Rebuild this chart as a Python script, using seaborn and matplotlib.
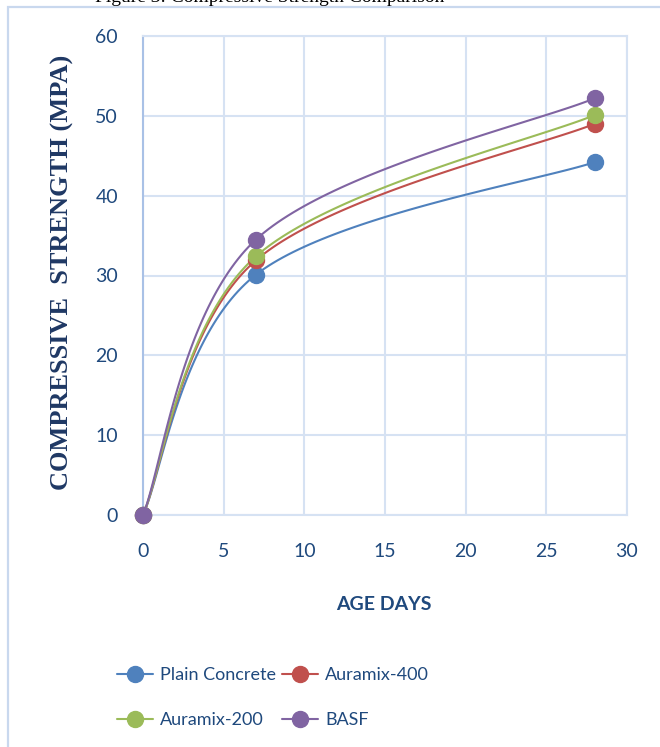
import numpy as np
import pandas as pd
import matplotlib
matplotlib.use("Agg")
import matplotlib.pyplot as plt
from matplotlib.lines import Line2D
from matplotlib.patches import Rectangle
import seaborn as sns

# ---- data ----
age_days = [0, 7, 28]
plain_concrete = [0, 30.1, 44.2]
auramix_400 = [0, 31.9, 49.0]
auramix_200 = [0, 32.4, 50.1]
basf = [0, 34.5, 52.2]
series_names = ["Plain Concrete", "Auramix-400", "Auramix-200", "BASF"]
series_values = [plain_concrete, auramix_400, auramix_200, basf]
colors = ["#4F81BD", "#C0504D", "#9BBB59", "#8064A2"]
x_ticks = [0, 5, 10, 15, 20, 25, 30]
y_ticks = [0, 10, 20, 30, 40, 50, 60]


def smooth_curve(xs, ys, n=60):
    """Excel-like smoothed line: Catmull-Rom Bezier through the points."""
    P = np.column_stack([xs, ys]).astype(float)
    m = len(P)
    out = []
    for i in range(m - 1):
        p_prev = P[i - 1] if i > 0 else P[i]
        p_next2 = P[i + 2] if i + 2 < m else P[i + 1]
        c1 = P[i] + (P[i + 1] - p_prev) / 6.0
        c2 = P[i + 1] - (p_next2 - P[i]) / 6.0
        t = np.linspace(0, 1, n)[:, None]
        seg = ((1 - t) ** 3) * P[i] + 3 * ((1 - t) ** 2) * t * c1 + 3 * (1 - t) * t ** 2 * c2 + t ** 3 * P[i + 1]
        if i > 0:
            seg = seg[1:]
        out.append(seg)
    return np.vstack(out)


rows = []
pts = []
for name, vals in zip(series_names, series_values):
    curve = smooth_curve(age_days, vals)
    for k, (cx, cy) in enumerate(curve):
        rows.append({"series": name, "x": cx, "y": cy, "order": k})
    for ax_, ay_ in zip(age_days, vals):
        pts.append({"series": name, "x": ax_, "y": ay_})
curves = pd.DataFrame(rows)
points = pd.DataFrame(pts)
palette = dict(zip(series_names, colors))

sns.set_theme(style="white")
plt.rcParams["font.family"] = ["Lato", "DejaVu Sans"]

W, H = 660, 747
fig = plt.figure(figsize=(W / 100, H / 100), dpi=100)
ax = fig.add_axes([143 / W, 1 - 515 / H, (627 - 143) / W, (515 - 36) / H])

sns.lineplot(data=curves, x="x", y="y", hue="series", palette=palette,
             estimator=None, sort=False, units="series", linewidth=1.5,
             legend=False, ax=ax, clip_on=False)
for name in series_names:
    sub = points[points.series == name]
    ax.plot(sub.x, sub.y, linestyle="none", marker="o", markersize=11.5,
            markerfacecolor=palette[name], markeredgecolor=palette[name],
            clip_on=False, zorder=5)

ax.set_xlim(0, 30)
ax.set_ylim(0, 60)
ax.set_xticks(x_ticks)
ax.set_yticks(y_ticks)
ax.set_xticklabels([str(v) for v in x_ticks])
ax.set_yticklabels([str(v) for v in y_ticks])
grid_c = "#D6E2F3"
ax.grid(True, color=grid_c, linewidth=1.5)
ax.set_axisbelow(True)
for s in ["top", "right", "bottom"]:
    ax.spines[s].set_color(grid_c)
    ax.spines[s].set_linewidth(1.5)
ax.spines["left"].set_color("#A9C1E6")
ax.spines["left"].set_linewidth(1.5)
tick_c = "#1F497D"
ax.tick_params(axis="both", length=0, labelsize=14, labelcolor=tick_c)
ax.tick_params(axis="y", pad=18)
ax.tick_params(axis="x", pad=20)
ax.set_xlabel("")
ax.set_ylabel("")

fig.text(62 / W, 1 - 272 / H, "COMPRESSIVE  STRENGTH (MPA)", rotation=90,
         ha="center", va="center", fontsize=19, fontweight="bold",
         family=["Liberation Serif"], color="#1F3864")
fig.text(384 / W, 1 - 604 / H, "AGE DAYS", ha="center", va="center",
         fontsize=14, fontweight="bold", color="#1F497D")

# partially cut title at top (as in the reference)
fig.text(270 / W, 1 - 2 / H, "Figure 3: Compressive Strength Comparison",
         ha="center", va="baseline", fontsize=14, family=["Liberation Serif"],
         color="black")

# outer chart border
fig.patches.append(Rectangle((8 / W, -0.05), 1.2, 1 - 7 / H + 0.05,
                             transform=fig.transFigure, fill=False,
                             edgecolor="#C9D8EE", linewidth=1.6))

handles = []
for name in ["Plain Concrete", "Auramix-200", "Auramix-400", "BASF"]:
    handles.append(Line2D([0], [0], color=palette[name], lw=1.5, marker="o",
                          markersize=11.5, markerfacecolor=palette[name],
                          markeredgecolor=palette[name]))
leg = fig.legend(handles=handles,
                 labels=["Plain Concrete", "Auramix-200", "Auramix-400", "BASF"],
                 ncol=2, loc="upper left", bbox_to_anchor=(108 / W, 1 - 658 / H),
                 frameon=False, fontsize=13, handlelength=2.0,
                 handletextpad=0.4, columnspacing=0.3, labelspacing=1.6,
                 borderpad=0)
for t in leg.get_texts():
    t.set_color(tick_c)

fig.savefig("out.png", dpi=100)
